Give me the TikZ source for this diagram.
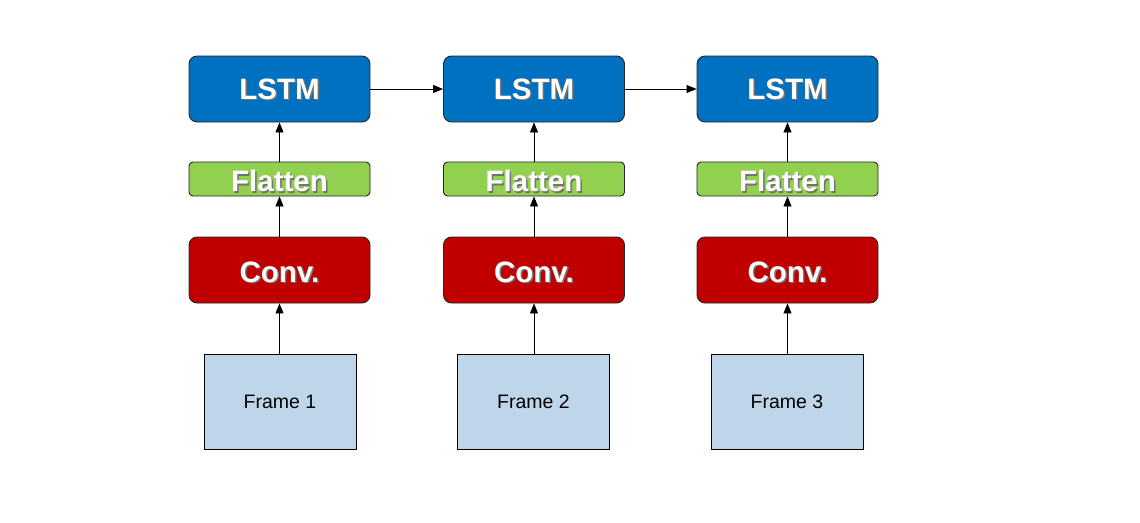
\documentclass[tikz,border=0pt]{standalone}
\usepackage{fontspec}
\setmainfont{Liberation Sans}
\usetikzlibrary{arrows.meta}
\definecolor{lstmblue}{HTML}{0070C0}
\definecolor{flatgreen}{HTML}{92D050}
\definecolor{convred}{HTML}{C00000}
\definecolor{framefill}{HTML}{BFD5EA}
\begin{document}
\begin{tikzpicture}[x=1pt,y=-1pt,
  box/.style={draw=black!85,line width=0.9pt,rounded corners=8pt,minimum width=181pt,inner sep=0pt,text=white,font=\bfseries\fontsize{29.5}{32}\selectfont},
  lstm/.style={box,fill=lstmblue,minimum height=66pt},
  flat/.style={box,fill=flatgreen,minimum height=34pt,rounded corners=4pt},
  conv/.style={box,fill=convred,minimum height=66pt},
  frame/.style={draw=black,line width=0.9pt,fill=framefill,minimum width=152pt,minimum height=95pt,inner sep=0pt,font=\fontsize{19.5}{22}\selectfont},
  arr/.style={-{Triangle[length=10pt,width=8pt]},line width=0.9pt}]
\useasboundingbox (0,0) rectangle (1140,522);
\foreach \i/\x/\fx in {1/279.5/280,2/534/533.5,3/787.5/787}{
  \node[lstm] (l\i) at (\x,89) {};
  \node[flat] (f\i) at (\x,179) {};
  \node[conv] (c\i) at (\x,270) {};
  \node[frame] (fr\i) at (\fx,401.5) {Frame \i};
  \draw[arr] (fr\i.north -| c\i.south) -- (c\i.south);
  \draw[arr] (c\i) -- (f\i);
  \draw[arr] (f\i) -- (l\i);
  \foreach \n/\t/\yy in {l/LSTM/89,f/Flatten/181,c/Conv./272}{
    \node[text=black!55,font=\bfseries\fontsize{29.5}{32}\selectfont] (\n\i s) at (\x+1.5,\yy+1.5) {\t};
    \node[text=white,font=\bfseries\fontsize{29.5}{32}\selectfont] (\n\i t) at (\x,\yy) {\t};
  }
}
\draw[arr] (l1) -- (l2);
\draw[arr] (l2) -- (l3);
\end{tikzpicture}
\end{document}
